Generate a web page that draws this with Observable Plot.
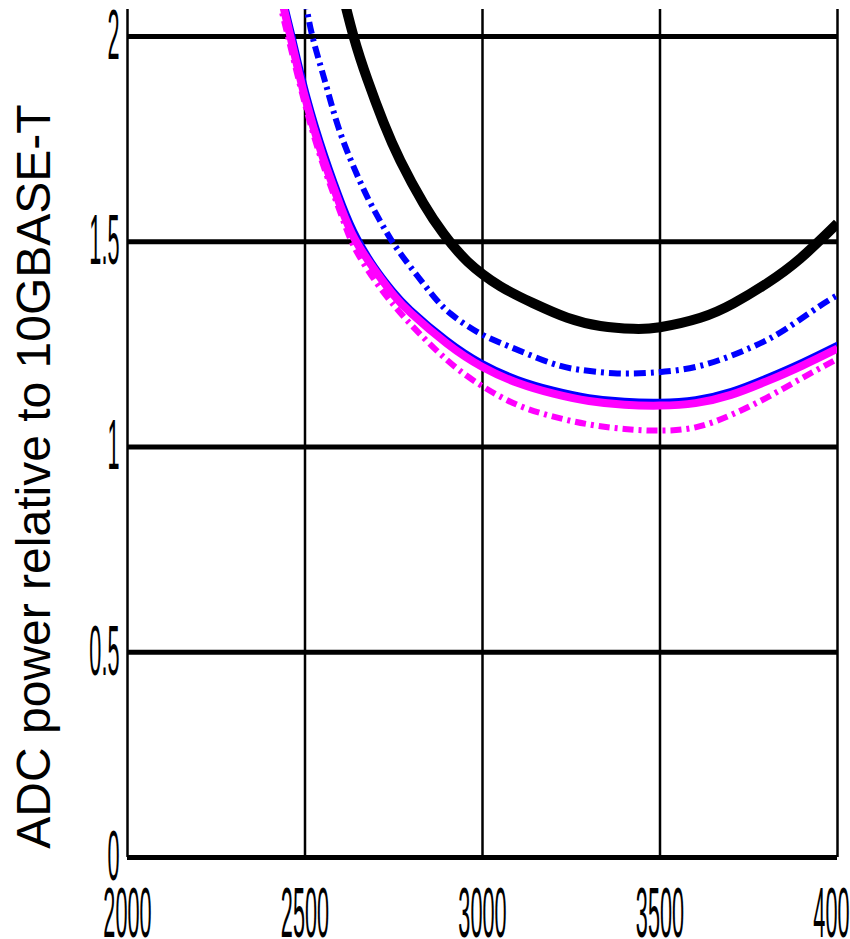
<!DOCTYPE html>
<html><head><meta charset="utf-8">
<script src="https://cdn.jsdelivr.net/npm/d3@7"></script>
<script src="https://cdn.jsdelivr.net/npm/@observablehq/plot@0.6"></script>
<style>html,body{margin:0;padding:0;background:#fff;overflow:hidden}</style>
</head><body>
<div id="chart"></div>
<script>
const xTicks = [2000, 2500, 3000, 3500, 4000];
const yTicks = [0, 0.5, 1, 1.5, 2];
const yLabel = "ADC power relative to 10GBASE-T";

const blackX = [2600, 2637, 2676, 2721, 2769, 2834, 2890, 2958, 3050, 3144, 3239, 3332, 3425, 3500, 3614, 3707, 3803, 3896, 4000];
const blackY = [2.125, 2.00, 1.895, 1.791, 1.697, 1.593, 1.52, 1.452, 1.392, 1.35, 1.315, 1.295, 1.288, 1.292, 1.315, 1.35, 1.40, 1.46, 1.545];

const blueDashX = [2500, 2521, 2558, 2600, 2656, 2693, 2732, 2777, 2854, 2910, 2986, 3070, 3192, 3276, 3369, 3473, 3614, 3755, 3848, 3944, 4000];
const blueDashY = [2.095, 2.00, 1.886, 1.764, 1.645, 1.58, 1.52, 1.462, 1.376, 1.325, 1.28, 1.247, 1.205, 1.188, 1.18, 1.181, 1.198, 1.242, 1.284, 1.34, 1.37];

const blueSolidX = [2440, 2468, 2510, 2560, 2610, 2650, 2700, 2750, 2800, 2900, 3000, 3100, 3200, 3300, 3400, 3500, 3600, 3700, 3800, 3900, 4000];
const blueSolidY = [2.10, 2.00, 1.852, 1.71, 1.59, 1.512, 1.44, 1.383, 1.337, 1.264, 1.207, 1.168, 1.142, 1.124, 1.115, 1.113, 1.119, 1.139, 1.172, 1.21, 1.252];

const magentaSolidX = [2430, 2459, 2500, 2550, 2600, 2640, 2700, 2750, 2800, 2900, 3000, 3100, 3200, 3300, 3400, 3500, 3600, 3700, 3800, 3900, 4000];
const magentaSolidY = [2.107, 2.00, 1.852, 1.707, 1.587, 1.507, 1.427, 1.37, 1.325, 1.252, 1.195, 1.156, 1.13, 1.112, 1.103, 1.101, 1.107, 1.127, 1.16, 1.198, 1.24];

const magentaDashX = [2425, 2452, 2500, 2550, 2600, 2640, 2700, 2750, 2800, 2900, 3000, 3100, 3200, 3300, 3400, 3500, 3600, 3700, 3800, 3900, 4000];
const magentaDashY = [2.095, 2.00, 1.835, 1.69, 1.57, 1.485, 1.402, 1.346, 1.297, 1.212, 1.148, 1.102, 1.074, 1.055, 1.044, 1.04, 1.048, 1.078, 1.12, 1.168, 1.215];

const series = [
  {x: blackX, y: blackY, stroke: "#000000", strokeWidth: 10, dash: null},
  {x: blueDashX, y: blueDashY, stroke: "#0000ff", strokeWidth: 6, dash: "12,5,3,5"},
  {x: blueSolidX, y: blueSolidY, stroke: "#0000ff", strokeWidth: 4, dash: null},
  {x: magentaSolidX, y: magentaSolidY, stroke: "#ff00ff", strokeWidth: 8, dash: null},
  {x: magentaDashX, y: magentaDashY, stroke: "#ff00ff", strokeWidth: 6, dash: "11,5,3,5"}
];

const lineMarks = series.map(s => Plot.line(
  s.x.map((xv, i) => ({x: xv, y: s.y[i]})),
  {x: "x", y: "y", stroke: s.stroke, strokeWidth: s.strokeWidth,
   strokeDasharray: s.dash || undefined, strokeLinecap: "butt",
   curve: "natural", clip: true}
));

const chart = Plot.plot({
  width: 850,
  height: 939,
  marginTop: 9,
  marginBottom: 82,
  marginLeft: 127,
  marginRight: 13,
  style: {fontFamily: "Liberation Sans, Arial, sans-serif", background: "#fff", color: "#000"},
  x: {domain: [2000, 4000]},
  y: {domain: [0, 2.066]},
  marks: [
    Plot.ruleX(xTicks, {stroke: "#000", strokeWidth: 2.5}),
    Plot.ruleY(yTicks, {stroke: "#000", strokeWidth: 5}),
    ...lineMarks,
    Plot.axisX({ticks: xTicks, tickSize: 0, tickPadding: 30, fontSize: 70, tickFormat: d => String(d), label: null}),
    Plot.axisY({ticks: yTicks, tickSize: 0, tickPadding: 8, fontSize: 70, tickFormat: d => String(d), label: null}),
    Plot.text([yLabel], {text: d => d, frameAnchor: "left", dx: -93, dy: 43, rotate: -90,
      fontSize: 48, textAnchor: "middle", lineAnchor: "middle", fill: "#000"})
  ]
});

document.getElementById("chart").appendChild(chart);

// condense tick labels horizontally, as in the original figure
for (const t of chart.querySelectorAll('g[aria-label="x-axis tick label"] text, g[aria-label="y-axis tick label"] text')) {
  const w = t.getComputedTextLength();
  if (w > 0) {
    t.setAttribute("textLength", (w * 0.31).toFixed(2));
    t.setAttribute("lengthAdjust", "spacingAndGlyphs");
  }
}
</script>
</body></html>
